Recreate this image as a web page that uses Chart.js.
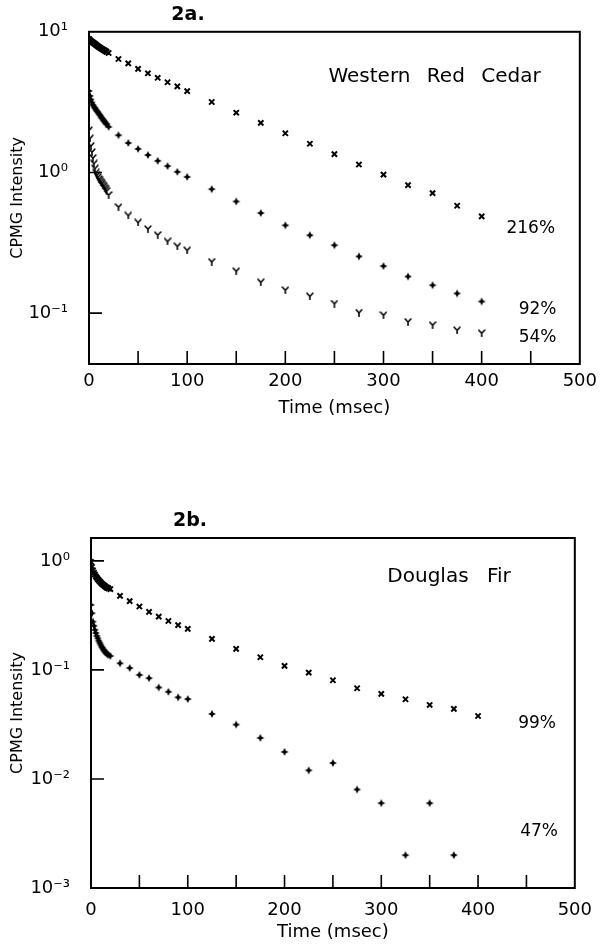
<!DOCTYPE html>
<html><head><meta charset="utf-8">
<script src="https://cdn.jsdelivr.net/npm/chart.js@4.4.1/dist/chart.umd.min.js"></script>
<style>
html,body{margin:0;padding:0;background:#fff;}
#wrap{position:relative;width:604px;height:951px;background:#fff;}
canvas{position:absolute;left:0;}
#cA{top:0;} #cB{top:475px;}
</style></head><body>
<div id="wrap"><canvas id="cA" width="604" height="475"></canvas><canvas id="cB" width="604" height="476"></canvas></div>
<script>
// ---- data ----
const times = [0,1,2,3,4,5,6,7,8,9,10,11,12,13,14,15,16,17,18,
  20,30,40,50,60,70,80,90,100,
  125,150,175,200,225,250,275,300,325,350,375,400];

// Panel 2a: Western Red Cedar
const cedar216 = [8.9,8.75,8.6,8.5,8.4,8.3,8.2,8.1,8.0,7.9,7.82,7.74,7.66,7.58,7.5,7.42,7.35,7.28,7.2,
  7.07,6.41,5.97,5.45,5.07,4.71,4.38,4.09,3.79,
  3.17,2.66,2.25,1.90,1.60,1.35,1.14,0.965,0.812,0.713,0.58,0.487];
const cedar92 = [3.8,3.5,3.3,3.14,3.02,2.94,2.87,2.8,2.74,2.68,2.62,2.56,2.5,2.44,2.39,2.34,2.29,2.24,2.2,
  2.11,1.84,1.62,1.47,1.33,1.21,1.11,1.01,0.93,
  0.761,0.622,0.515,0.421,0.358,0.304,0.253,0.216,0.182,0.158,0.138,0.121];
const cedar54 = [2.0,1.75,1.55,1.4,1.27,1.16,1.07,1.0,0.96,0.93,0.9,0.88,0.86,0.84,0.82,0.8,0.78,0.76,0.74,
  0.693,0.568,0.495,0.442,0.397,0.360,0.324,0.299,0.280,
  0.232,0.199,0.166,0.146,0.132,0.117,0.101,0.097,0.0869,0.0823,0.0758,0.0722];

// Panel 2b: Douglas Fir
const fir99 = [0.98,0.88,0.82,0.78,0.75,0.72,0.70,0.68,0.665,0.65,0.635,0.62,0.61,0.60,0.59,0.58,0.57,0.565,0.56,
  0.55,0.477,0.427,0.381,0.340,0.308,0.281,0.257,0.238,
  0.1925,0.156,0.1307,0.1088,0.0945,0.0804,0.0679,0.0602,0.0538,0.0477,0.0439,0.0378];
const fir47 = [0.395,0.331,0.277,0.254,0.233,0.218,0.205,0.195,0.185,0.177,0.17,0.163,0.158,0.153,0.148,0.145,0.142,0.139,0.137,
  0.134,0.115,0.104,0.090,0.084,0.069,0.063,0.056,0.054,
  0.0395,0.0315,0.0238,0.0177,0.012,0.014,0.008,0.006,0.002,0.006,0.002];

// ticks
const xTickValues = [0,50,100,150,200,250,300,350,400,450,500];
const yTicksA = [10,1,0.1];
const yLabelsA = ['10\u00B9','10\u2070','10\u207B\u00B9'];
const yTicksB = [1,0.1,0.01,0.001];
const yLabelsB = ['10\u2070','10\u207B\u00B9','10\u207B\u00B2','10\u207B\u00B3'];

// ---- markers ----
function markerY(){
  const c=document.createElement('canvas'); c.width=8; c.height=8;
  const g=c.getContext('2d'); g.strokeStyle='#000'; g.lineWidth=1.6; g.lineCap='round';
  g.beginPath(); g.moveTo(4,4.2); g.lineTo(1.2,1.2); g.moveTo(4,4.2); g.lineTo(6.8,1.2);
  g.moveTo(4,4.2); g.lineTo(4,7.3); g.stroke(); return c;
}
function markerStar(){
  const c=document.createElement('canvas'); c.width=10; c.height=10;
  const g=c.getContext('2d'); g.fillStyle='#000'; g.translate(5,5);
  const o=4.0,i=1.35;
  g.beginPath(); g.moveTo(0,-o); g.lineTo(i,-i); g.lineTo(o,0); g.lineTo(i,i); g.lineTo(0,o);
  g.lineTo(-i,i); g.lineTo(-o,0); g.lineTo(-i,-i); g.closePath(); g.fill(); return c;
}
const mY = markerY(), mStar = markerStar();

function pts(vals){ const r=[]; vals.forEach((v,i)=>{ if(v!=null) r.push({x:times[i],y:v}); }); return r; }

const FONT='"DejaVu Sans", sans-serif';

const framePlugin = {
  id:'frame',
  afterDraw(chart, args, opts){
    const {ctx, chartArea:a, scales:{x,y}} = chart;
    ctx.save();
    ctx.strokeStyle='#000'; ctx.lineWidth=2;
    ctx.strokeRect(a.left, a.top, a.right-a.left, a.bottom-a.top);
    ctx.beginPath(); ctx.lineWidth=1.6;
    x.ticks.forEach(t=>{ const px=x.getPixelForValue(t.value); if(px<=a.left+2||px>=a.right-2) return; ctx.moveTo(px,a.bottom); ctx.lineTo(px,a.bottom-13); });
    y.ticks.forEach(t=>{ const py=y.getPixelForValue(t.value); if(py<=a.top+2||py>=a.bottom-2) return; ctx.moveTo(a.left,py); ctx.lineTo(a.left+13,py); });
    ctx.stroke();
    ctx.fillStyle='#000';
    (opts.texts||[]).forEach(t=>{
      ctx.font=t.font; ctx.textAlign='center'; ctx.textBaseline='middle';
      try{ ctx.wordSpacing = t.ws||'0px'; }catch(e){}
      ctx.fillText(t.text, x.getPixelForValue(t.x), y.getPixelForValue(t.y));
    });
    try{ ctx.wordSpacing='0px'; }catch(e){}
    if(opts.panel){
      ctx.font='bold 19px '+FONT; ctx.textAlign='center'; ctx.textBaseline='middle';
      ctx.fillText(opts.panel, a.left+opts.panelDx, a.top+opts.panelDy);
    }
    ctx.restore();
  }
};

function makeChart(id, datasets, yMin, yMax, yTicks, yLabels, yWidth, pad, xLabelPad, texts, panel){
  return new Chart(document.getElementById(id), {
    type:'scatter',
    data:{datasets},
    options:{
      responsive:false, animation:false, devicePixelRatio:1,
      layout:{padding:pad},
      plugins:{legend:{display:false}, tooltip:{enabled:false},
        frame:{texts, panel, panelDx:99, panelDy:-17}},
      scales:{
        x:{type:'linear', min:0, max:500,
          afterBuildTicks:s=>{ s.ticks = xTickValues.map(v=>({value:v})); },
          afterFit:s=>{ s.height=58; },
          ticks:{autoSkip:false, maxRotation:0, padding:xLabelPad, color:'#000',
            font:{family:FONT,size:18},
            callback:v=> (v%100===0? String(v):'')},
          grid:{display:false, drawTicks:false},
          border:{display:true,color:'#000',width:2},
          title:{display:true,text:'Time (msec)',color:'#000',font:{family:FONT,size:18},padding:{top:0,bottom:3}}
        },
        y:{type:'logarithmic', min:yMin, max:yMax,
          afterBuildTicks:s=>{ s.ticks = yTicks.map(v=>({value:v})); },
          afterFit:s=>{ s.width=yWidth; },
          ticks:{autoSkip:false, padding:21, color:'#000',
            font:{family:FONT,size:18},
            callback:(v,i)=>yLabels[i]},
          grid:{display:false, drawTicks:false},
          border:{display:true,color:'#000',width:2},
          title:{display:true,text:'CPMG Intensity',color:'#000',font:{family:FONT,size:16},padding:{top:8,bottom:0}}
        }
      }
    },
    plugins:[framePlugin]
  });
}

function ds(label, vals, style, r, bw){
  return {label, data:pts(vals), showLine:false, pointStyle:style, pointRadius:r, pointBorderWidth:bw,
    borderColor:'#000', backgroundColor:'#000', pointBackgroundColor:'#000', pointBorderColor:'#000'};
}

makeChart('cA', [
    ds('216%', cedar216, 'crossRot', 3.7, 2),
    ds('92%', cedar92, mStar, 4, 1),
    ds('54%', cedar54, mY, 4, 1)
  ], 0.0435, 10, yTicksA, yLabelsA, 89, {left:0,right:21,top:31,bottom:53}, 7,
  [
    {text:'Western Red Cedar', x:352, y:4.81, font:'20px '+FONT, ws:'10px'},
    {text:'216%', x:450, y:0.399, font:'17px '+FONT},
    {text:'92%', x:457, y:0.1067, font:'17px '+FONT},
    {text:'54%', x:457, y:0.0665, font:'17px '+FONT}
  ], '2a.');

makeChart('cB', [
    ds('99%', fir99, 'crossRot', 3.7, 2),
    ds('47%', fir47, mStar, 4, 1)
  ], 0.001, 1.62, yTicksB, yLabelsB, 91, {left:0,right:19,top:63,bottom:5}, 12,
  [
    {text:'Douglas Fir', x:370, y:0.713, font:'20px '+FONT, ws:'12px'},
    {text:'99%', x:461, y:0.032, font:'17px '+FONT},
    {text:'47%', x:463, y:0.00326, font:'17px '+FONT}
  ], '2b.');
</script>
</body></html>
